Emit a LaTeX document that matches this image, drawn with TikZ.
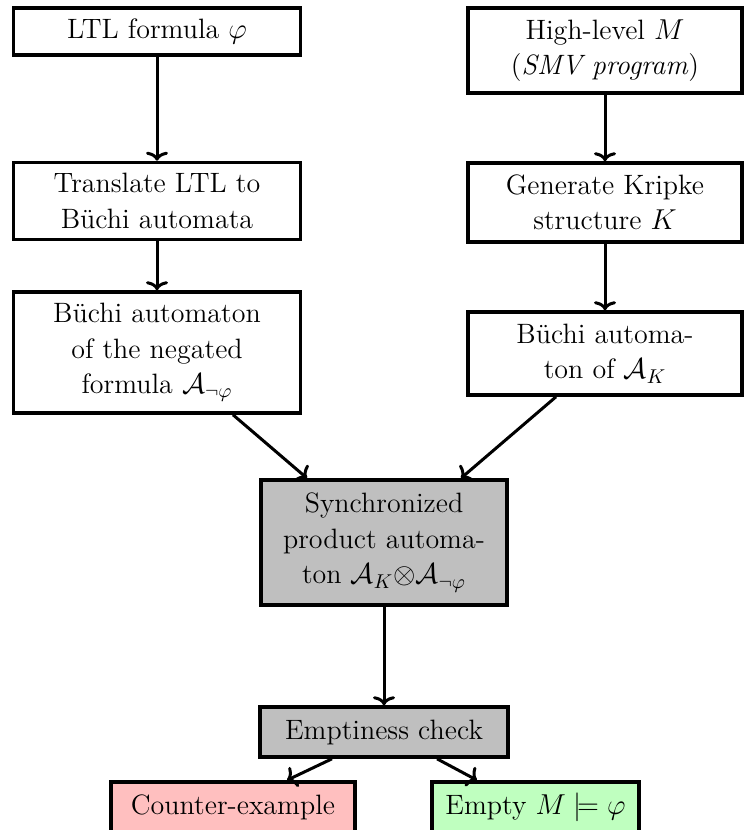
\documentclass[tikz,border=0pt]{standalone}
\usepackage{amsmath,amssymb}
\usetikzlibrary{arrows.meta}
\begin{document}
\begin{tikzpicture}[x=0.5pt,y=-0.5pt,
  box/.style={draw=black,line width=1.8pt,align=center,inner sep=2pt,
    font=\fontsize{14}{17.75}\selectfont},
  grey/.style={box,fill=black!25},
  bad/.style={box,fill=red!25},
  good/.style={box,fill=green!25},
  arr/.style={-{To[length=4.5pt,width=11pt,line width=1.5pt]},line width=1.5pt}]
\useasboundingbox (0,0) rectangle (744,830);
\node[box,minimum width=143.5pt,minimum height=23.5pt] (ltl) at (157,31.5) {LTL formula $\varphi$};
\node[box,minimum width=137pt,minimum height=42.5pt] (hl) at (605,50.5) {High-level $M$\\(\textit{SMV program})};
\node[box,minimum width=143.5pt,minimum height=38.5pt] (tr) at (157,201) {Translate LTL to\\B\"uchi automata};
\node[box,minimum width=137pt,minimum height=39.5pt] (gk) at (605,202.5) {Generate Kripke\\structure $K$};
\node[box,minimum width=143.5pt,minimum height=60.5pt] (bneg) at (157,352.5) {B\"uchi automaton\\of the negated\\formula $\mathcal{A}_{\neg\varphi}$};
\node[box,minimum width=137pt,minimum height=41.5pt] (bak) at (605,353.5) {B\"uchi automa-\\ton of $\mathcal{A}_K$};
\node[grey,minimum width=123pt,minimum height=62.5pt] (sync) at (384,542.5) {Synchronized\\product automa-\\ton $\mathcal{A}_K{\otimes}\mathcal{A}_{\neg\varphi}$};
\node[grey,minimum width=124pt,minimum height=25pt] (emp) at (384,732) {Emptiness check};
\node[bad,minimum width=122pt,minimum height=25pt] (ce) at (233,807) {Counter-example};
\node[good,minimum width=103.5pt,minimum height=25pt] (ok) at (535.5,807) {Empty $M\models\varphi$};
\draw[arr] (ltl.south) -- (tr.north);
\draw[arr] (tr.south) -- (bneg.north);
\draw[arr] (hl.south) -- (gk.north);
\draw[arr] (gk.south) -- (bak.north);
\draw[arr] ([xshift=38pt]bneg.south) -- ([xshift=-38.5pt]sync.north);
\draw[arr] ([xshift=-24.5pt]bak.south) -- ([xshift=38.5pt]sync.north);
\draw[arr] (sync.south) -- (emp.north);
\draw[arr] ([xshift=-26pt]emp.south) -- ([xshift=27pt]ce.north);
\draw[arr] ([xshift=26.5pt]emp.south) -- ([xshift=-29.25pt]ok.north);
\end{tikzpicture}
\end{document}
